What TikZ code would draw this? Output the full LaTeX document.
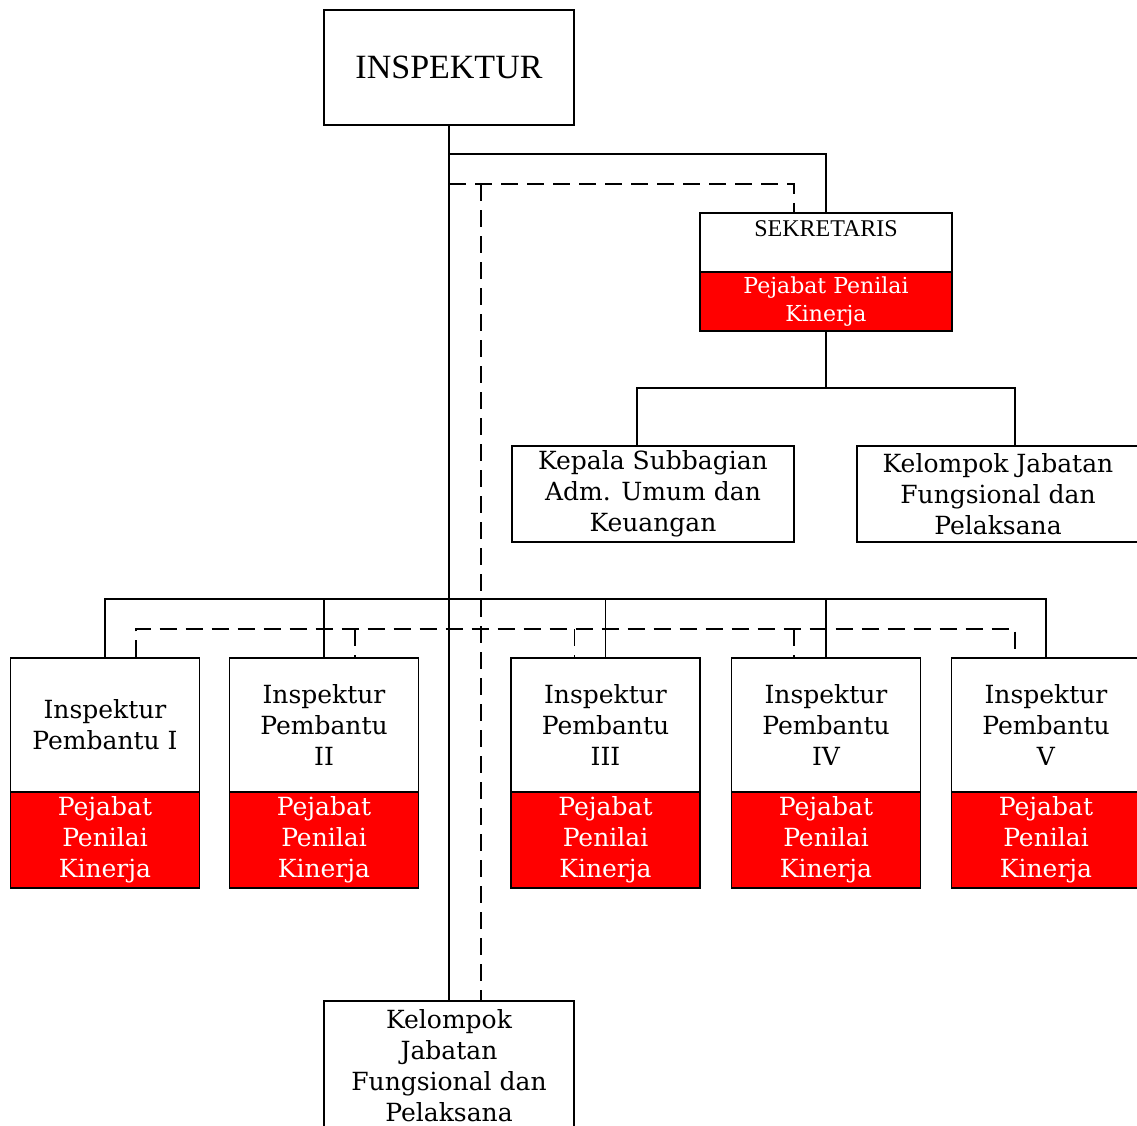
\documentclass[tikz,border=0pt]{standalone}
\usepackage{fontspec}
\newfontfamily\bkfont{DejaVu Serif}
\newfontfamily\tmfont{Liberation Serif}
\usetikzlibrary{calc}
\begin{document}
\begin{tikzpicture}[x=1pt,y=-1pt,
  box/.style={draw=black,line width=1.2pt,fill=white,inner sep=0pt,align=center,
              font=\bkfont\fontsize{25}{31}\selectfont},
  ppk/.style={box,fill=red,text=white},
  conn/.style={draw=black,line width=1.2pt},
  dsh/.style={conn,dash pattern=on 17pt off 9pt}]
\useasboundingbox (0,0) rectangle (1137,1126);
\fill[white] (0,0) rectangle (1137,1126);

% head of the office
\node[box,minimum width=250pt,minimum height=115pt,
      font=\tmfont\fontsize{34}{40}\selectfont] (insp) at (449,67.5) {INSPEKTUR};

% secretary with its assessor part
\node[box,minimum width=252pt,minimum height=59pt] (sek) at (826,242.5) {};
\node[inner sep=0pt,font=\tmfont\fontsize{24}{28}\selectfont] (sekt) at (826,229) {SEKRETARIS};
\node[ppk,minimum width=252pt,minimum height=59pt,
      font=\bkfont\fontsize{22}{28}\selectfont] (sekp) at (826,301.5) {Pejabat Penilai\\Kinerja};

% units under the secretary
\node[box,minimum width=282pt,minimum height=96pt] (kep) at (653,494)
  {Kepala Subbagian\\Adm. Umum dan\\Keuangan};
\node[box,minimum width=282pt,minimum height=96pt] (kfr) at (998,494)
  {Kelompok Jabatan\\Fungsional dan\\Pelaksana};

% assistant inspectors
\foreach \i/\x/\t in {1/105/{Inspektur\\Pembantu I},
                      2/324/{Inspektur\\Pembantu\\II},
                      3/605.5/{Inspektur\\Pembantu\\III},
                      4/826/{Inspektur\\Pembantu\\IV},
                      5/1046/{Inspektur\\Pembantu\\V}}{
  \node[box,minimum width=189pt,minimum height=134pt] (ip\i) at (\x,725) {\t};
  \node[ppk,minimum width=189pt,minimum height=96pt] (pp\i) at (\x,840)
    {\raisebox{-3pt}{\begin{tabular}{@{}c@{}}Pejabat\\Penilai\\Kinerja\end{tabular}}};
}

% functional group at the bottom
\node[box,minimum width=250pt,minimum height=130pt] (kfp) at (449,1066)
  {Kelompok\\Jabatan\\Fungsional dan\\Pelaksana};

% command lines from the head
\draw[conn] (insp.south) -- (kfp.north);
\coordinate (s1) at (449,154);
\draw[conn] (s1) -| (sek.north);

% coordination lines from the head
\coordinate (s2) at (449,184);
\coordinate (sekd) at ([xshift=-32pt]sek.north);
\draw[dsh] (s2) -| (sekd);
\coordinate (s3) at (481,184);
\draw[dsh] (s3) -- (s3 |- kfp.north);

% secretary to its units
\coordinate (s4) at (826,388);
\coordinate (kept) at ([xshift=-16pt]kep.north);
\coordinate (kfrt) at ([xshift=17pt]kfr.north);
\draw[conn] (sekp.south) -- (s4);
\draw[conn] (kept) |- (s4) -| (kfrt);

% command bus to the assistant inspectors
\coordinate (bus) at (449,599);
\draw[conn] (ip1.north) |- (bus) -| (ip5.north);
\foreach \i in {2,3,4}{\draw[conn] (ip\i.north) -- (ip\i.north |- bus);}

% coordination bus to the assistant inspectors
\coordinate (dbus) at (449,629);
\coordinate (t1) at ([xshift=31pt]ip1.north);
\coordinate (t2) at ([xshift=31pt]ip2.north);
\coordinate (t3) at ([xshift=-31pt]ip3.north);
\coordinate (t4) at ([xshift=-32pt]ip4.north);
\coordinate (t5) at ([xshift=-31pt]ip5.north);
\draw[dsh] (t1) |- (dbus) -| (t5);
\foreach \i in {2,3,4}{\draw[dsh] (t\i |- dbus) -- (t\i);}
\end{tikzpicture}
\end{document}
